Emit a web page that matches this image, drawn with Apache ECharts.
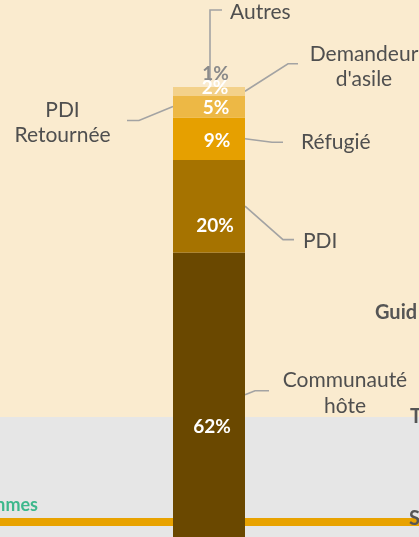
<!DOCTYPE html>
<html><head><meta charset="utf-8">
<script src="https://cdn.jsdelivr.net/npm/echarts@6/dist/echarts.min.js"></script>
<style>html,body{margin:0;padding:0;background:#FAEBCF}#c{width:419px;height:537px}</style>
</head><body><div id="c"></div>
<script>
// ---- data (bottom to top of the stacked bar) ----
const categories = ['Communauté hôte', 'PDI', 'Réfugié', 'PDI Retournée', "Demandeur d'asile", 'Autres'];
const nameLabels = ['Communauté\nhôte', 'PDI', 'Réfugié', 'PDI\nRetournée', "Demandeur\nd'asile", 'Autres'];
const values = [62.4, 20.3, 9.3, 4.8, 1.9, 1.3];
const pctLabels = ['62%', '20%', '9%', '5%', '2%', '1%'];

// ---- styles / layout ----
const colors = ['#6A4800', '#A67300', '#E6A000', '#EDB845', '#F3D18A', '#FAEBCF'];
const pctColors = ['#fff', '#fff', '#fff', '#fff', '#fff', '#8A8A8A'];
const pctOffsets = [[3, 32], [6, 19.5], [8, 2.5], [7, 1], [6, -3.5], [6.5, -10.5]];
const barW = 72;
const leaders = [
  {side: 'right', start: [0, 0], elbow: [10, -4], end: [24, -4], text: [100, -1.5], align: 'center'},
  {side: 'right', start: [0, 0], elbow: [38, 33.5], end: [49, 33.5], text: [58, 35], align: 'left'},
  {side: 'right', start: [0, 0], elbow: [27, 3.5], end: [38, 3.5], text: [56, 4], align: 'left'},
  {side: 'left', start: [0, 0], elbow: [-34, 14], end: [-46, 14], text: [-110.5, 16], align: 'center'},
  {side: 'right', start: [0, 0], elbow: [43, -27.5], end: [53, -27.5], text: [119, -24.5], align: 'center'},
  {side: 'top', start: [1, 0], elbow: [1, -71], end: [13, -71], text: [21, -68.5], align: 'left'}
];

const bases = [];
let acc = 0;
values.forEach(v => { bases.push(acc); acc += v; });

const chart = echarts.init(document.getElementById('c'));
const barSeries = categories.map((name, i) => ({
  name, type: 'bar', stack: 'total', barWidth: barW, z: 2,
  data: [values[i]],
  itemStyle: {color: colors[i]},
  label: {
    show: true, position: 'inside', formatter: pctLabels[i],
    offset: pctOffsets[i], color: pctColors[i],
    fontFamily: 'Lato', fontWeight: 'bold', fontSize: 19
  }
}));

const leaderSeries = {
  type: 'custom', z: 1, clip: false, silent: true,
  data: categories.map((c, i) => [0, bases[i], values[i]]),
  renderItem(params, api) {
    const i = params.dataIndex;
    const L = leaders[i];
    const base = api.value(1), v = api.value(2);
    let anchor;
    if (L.side === 'top') {
      anchor = api.coord([0, base + v]);
    } else {
      const m = api.coord([0, base + v / 2]);
      anchor = [m[0] + (L.side === 'right' ? barW / 2 : -barW / 2), m[1]];
    }
    const p = o => [anchor[0] + o[0], anchor[1] + o[1]];
    return {
      type: 'group',
      children: [
        {type: 'polyline', shape: {points: [p(L.start), p(L.elbow), p(L.end)]},
         style: {stroke: '#A3A3A3', lineWidth: 1.6, fill: null}},
        {type: 'text', x: p(L.text)[0], y: p(L.text)[1],
         style: {text: nameLabels[i], align: L.align, verticalAlign: 'middle',
                 fill: '#4F4F4F', font: '21px Lato', lineHeight: 25.5}}
      ]
    };
  }
};

chart.setOption({
  backgroundColor: '#FAEBCF',
  animation: false,
  grid: {left: 159, width: 100, top: 81, bottom: -4},
  xAxis: {type: 'category', data: [''], show: false},
  yAxis: {type: 'value', min: 0, max: 100, show: false},
  graphic: {elements: [
    {type: 'rect', z: 0, shape: {x: 0, y: 417, width: 419, height: 120}, style: {fill: '#E6E6E6'}},
    {type: 'rect', z: 0, shape: {x: 0, y: 518, width: 419, height: 8}, style: {fill: '#E8A200'}},
    {type: 'text', z: 0, x: 375, y: 313, style: {text: 'Guid', font: 'bold 20px Lato', fill: '#555', align: 'left', verticalAlign: 'middle', textAlign: 'left', textVerticalAlign: 'middle'}},
    {type: 'text', z: 0, x: 410, y: 417, style: {text: 'T', font: 'bold 20px Lato', fill: '#555', align: 'left', verticalAlign: 'middle', textAlign: 'left', textVerticalAlign: 'middle'}},
    {type: 'text', z: 0, x: 409, y: 519, style: {text: 'S', font: 'bold 20px Lato', fill: '#555', align: 'left', verticalAlign: 'middle', textAlign: 'left', textVerticalAlign: 'middle'}},
    {type: 'text', z: 0, x: 38, y: 505, style: {text: 'Hommes', font: 'bold 18px Lato', fill: '#3DB88C', align: 'right', verticalAlign: 'middle', textAlign: 'right', textVerticalAlign: 'middle'}}
  ]},
  series: [...barSeries, leaderSeries]
});
</script>
</body></html>
